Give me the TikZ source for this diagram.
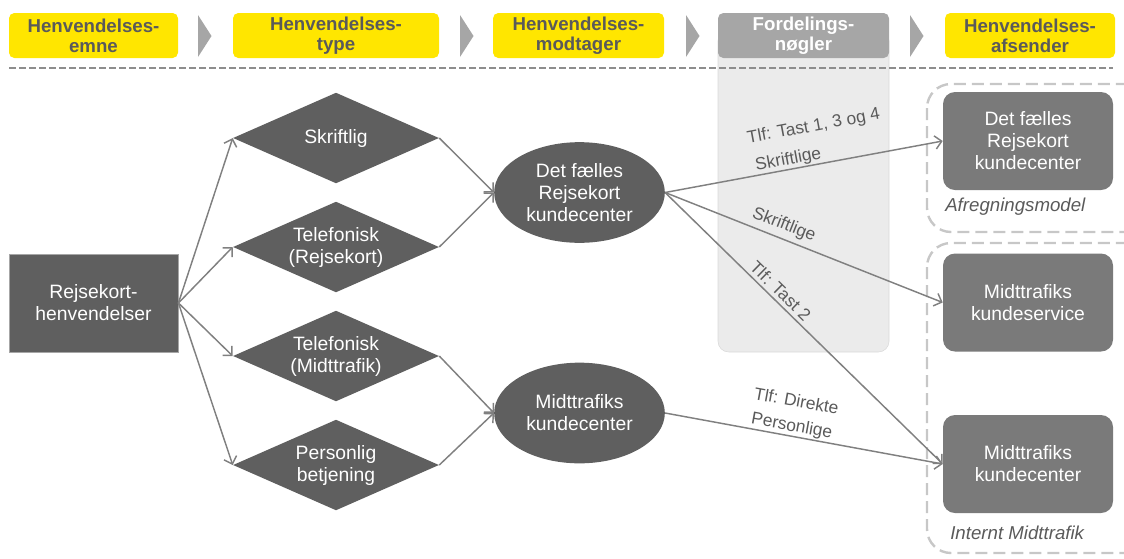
\documentclass[tikz,border=0pt]{standalone}
\usepackage{fontspec}
\setmainfont{Liberation Sans}
\usetikzlibrary{shapes.geometric,arrows.meta}
\definecolor{eyyellow}{HTML}{FFE600}
\definecolor{headtext}{HTML}{5A5A5A}
\definecolor{darkfill}{HTML}{5F5F5F}
\definecolor{midfill}{HTML}{7A7A7A}
\definecolor{keyfill}{HTML}{A6A6A6}
\definecolor{colfill}{HTML}{EBEBEB}
\definecolor{linegrey}{HTML}{808080}
\tikzset{
  head/.style={fill=eyyellow, text=headtext, rounded corners=4pt, align=center,
    font=\fontsize{14}{15}\selectfont\bfseries, minimum height=33.75pt, inner sep=0pt},
  chev/.style={fill=keyfill},
  rect/.style={fill=darkfill, draw=keyfill, text=white, align=center,
    minimum width=127pt, minimum height=73.5pt},
  dia/.style={diamond, aspect=2.27, fill=darkfill, text=white, align=center,
    inner sep=0pt, minimum width=154.5pt, minimum height=68pt},
  ell/.style={ellipse, fill=darkfill, text=white, align=center,
    inner sep=0pt, minimum width=128pt, minimum height=75.5pt},
  box/.style={fill=midfill, text=white, align=center, rounded corners=9pt,
    minimum width=127.5pt, minimum height=73.5pt},
  group/.style={draw=black!22, line width=1.8pt, dash pattern=on 9pt off 4.5pt, rounded corners=18pt},
  lbl/.style={text=headtext, font=\fontsize{13}{15}\selectfont, sloped, inner sep=0.5pt},
  note/.style={text=headtext, font=\fontsize{14}{16}\selectfont\itshape, anchor=west, inner sep=0pt}
}
\begin{document}
\begin{tikzpicture}[x=0.75pt, y=-0.75pt, font=\fontsize{14.5}{16.5}\selectfont]
  \useasboundingbox (0,0) rectangle (1124,558);
  % fordelingsnoegler column
  \draw[draw=black!15, fill=colfill, rounded corners=8pt] (718,30) rectangle (889,352);
  % chevrons
  \foreach \x in {198,460,686,910}
    \fill[chev] (\x,15) -- (\x+13.5,36) -- (\x,57) -- cycle;
  % header
  \node[head, minimum width=126.75pt] (emne) at (93.5,35.5) {Henvendelses-\\emne};
  \node[head, minimum width=154.5pt] (type) at (336,35.5) {Henvendelses-\\type};
  \node[head, minimum width=128.25pt] (modtager) at (578.5,35.5) {Henvendelses-\\modtager};
  \node[head, minimum width=128.25pt, fill=keyfill, text=white] (noegler) at (803.5,35.5) {Fordelings-\\nøgler};
  \node[head, minimum width=127.5pt] (afsender) at (1030,35.5) {Henvendelses-\\afsender};
  \draw[linegrey!90, line width=1.1pt, dash pattern=on 5pt off 2.5pt] (9,68) -- (1113,68);
  % groups
  \draw[group] (927,84) rectangle (1150,232);
  \draw[group] (927,243) rectangle (1150,553);
  \node[note] (afregning) at (945,207) {Afregningsmodel};
  \node[note] (internt) at (950,533) {Internt Midttrafik};
  % nodes
  \node[rect] (henv) at (93.5,303) {Rejsekort-\\henvendelser};
  \node[dia] (skrift) at (336,138) {Skriftlig};
  \node[dia] (telrk) at (336,247) {Telefonisk\\(Rejsekort)};
  \node[dia] (telmt) at (336,356) {Telefonisk\\(Midttrafik)};
  \node[dia] (pers) at (336,465) {Personlig\\betjening};
  \node[ell] (rkkc) at (579.5,192.5) {Det fælles\\Rejsekort\\kundecenter};
  \node[ell] (mtkc) at (579.5,413) {Midttrafiks\\kundecenter};
  \node[box] (afs1) at (1028,141) {Det fælles\\Rejsekort\\kundecenter};
  \node[box] (afs2) at (1028,302.5) {Midttrafiks\\kundeservice};
  \node[box] (afs3) at (1028,464) {Midttrafiks\\kundecenter};
  \begin{scope}[draw=linegrey, line width=1.1pt, -{Straight Barb[length=5pt,width=10pt]}]
    \draw (henv.east) to (skrift.west);
    \draw (henv.east) to (telrk.west);
    \draw (henv.east) to (telmt.west);
    \draw (henv.east) to (pers.west);
    \draw (skrift.east) to (rkkc.west);
    \draw (telrk.east) to (rkkc.west);
    \draw (telmt.east) to (mtkc.west);
    \draw (pers.east) to (mtkc.west);
    \draw (rkkc.east) to node[lbl, pos=0.45, above] {Skriftlige}
      node[lbl, pos=0.56, above=21pt] {Tlf: Tast 1, 3 og 4} (afs1.west);
    \draw (rkkc.east) to node[lbl, pos=0.41, above=3pt] {Skriftlige} (afs2.west);
    \draw (rkkc.east) to node[lbl, pos=0.39, above=2pt] {Tlf: Tast 2} (afs3.west);
    \draw (mtkc.east) to node[lbl, pos=0.45, above] {Personlige}
      node[lbl, pos=0.45, above=21pt] {Tlf: Direkte} (afs3.west);
  \end{scope}
\end{tikzpicture}
\end{document}
